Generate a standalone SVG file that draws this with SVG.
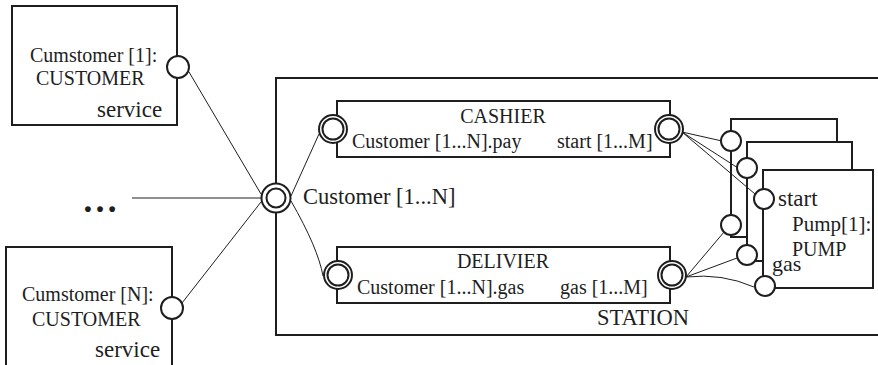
<svg xmlns="http://www.w3.org/2000/svg" width="878" height="365" viewBox="0 0 878 365">
  <style>
    .box{fill:#fff;stroke:#1e1e1e;stroke-width:2}
    .frame{fill:none;stroke:#1e1e1e;stroke-width:2}
    .wire{fill:none;stroke:#1e1e1e;stroke-width:1}
    .port{fill:#fff;stroke:#1e1e1e;stroke-width:2}
    text{font-family:"Liberation Serif","Times New Roman","DejaVu Serif",serif;font-size:20px;fill:#1e1e1e}
    .big{font-size:22.5px}
    .mid{text-anchor:middle}
  </style>
  <rect width="878" height="365" fill="#fff"/>

  <!-- composite structure -->
  <g id="station">
    <rect class="frame" x="276" y="78" width="640" height="257"/>
    <text class="big" x="597" y="325">STATION</text>
  </g>

  <g id="customer-1">
    <rect class="box" x="12" y="6" width="165" height="119"/>
    <text x="30" y="62">Cumstomer [1]:</text>
    <text x="36" y="85">CUSTOMER</text>
    <text x="97" y="117" style="font-size:23px">service</text>
    <circle class="port" cx="178" cy="67" r="11"/>
  </g>

  <g id="customer-n">
    <rect class="box" x="6" y="247" width="166" height="140"/>
    <text x="22" y="301">Cumstomer [N]:</text>
    <text x="32" y="326">CUSTOMER</text>
    <text x="95" y="357" style="font-size:23px">service</text>
    <circle class="port" cx="172" cy="308" r="11"/>
  </g>

  <g id="ellipsis">
    <text x="82" y="212" style="font-size:36px;font-weight:bold">…</text>
  </g>

  <g id="station-port">
    <circle class="port" cx="276" cy="198" r="14.5"/>
    <circle class="port" cx="276" cy="198" r="9.5"/>
    <text class="big" x="303" y="204">Customer [1...N]</text>
  </g>

  <g id="cashier">
    <rect class="box" x="337" y="101" width="333" height="56"/>
    <text class="mid" x="503" y="123">CASHIER</text>
    <text x="352" y="148">Customer [1...N].pay</text>
    <text x="557" y="148">start [1...M]</text>
    <circle class="port" cx="333" cy="129" r="14"/>
    <circle class="port" cx="333" cy="129" r="10.5"/>
    <circle class="port" cx="669" cy="129" r="14"/>
    <circle class="port" cx="669" cy="129" r="10.5"/>
  </g>

  <g id="delivier">
    <rect class="box" x="337" y="247" width="333" height="56"/>
    <text class="mid" x="503" y="268">DELIVIER</text>
    <text x="357" y="294">Customer [1...N].gas</text>
    <text x="560" y="294">gas [1...M]</text>
    <circle class="port" cx="338" cy="275" r="14"/>
    <circle class="port" cx="338" cy="275" r="10.5"/>
    <circle class="port" cx="672" cy="275" r="14"/>
    <circle class="port" cx="672" cy="275" r="10.5"/>
  </g>

  <!-- stacked pump instances, back to front -->
  <g id="pump-3">
    <rect class="box" x="731" y="119" width="106" height="118"/>
  </g>
  <g id="pump-2">
    <rect class="box" x="747" y="142" width="105" height="119"/>
  </g>
  <g id="pump-1">
    <rect class="box" x="763" y="170" width="110" height="118"/>
    <text x="778" y="206" style="font-size:23px">start</text>
    <text x="792" y="231" style="font-size:21px">Pump[1]:</text>
    <text x="792" y="256" style="font-size:20px">PUMP</text>
    <text x="772" y="271" style="font-size:22px">gas</text>
  </g>

  <g id="connectors">
    <path class="wire" d="M189,72 L261,194"/>
    <path class="wire" d="M182,303 L261,202"/>
    <path class="wire" d="M132,198 L261.5,198"/>
    <path class="wire" d="M291,196 L319,134"/>
    <path class="wire" d="M291,201 Q318,248 323,276"/>
    <path class="wire" d="M682,132 L722,141"/>
    <path class="wire" d="M682,132 L738,168"/>
    <path class="wire" d="M682,132 L755,194"/>
    <path class="wire" d="M686,277 L724,232"/>
    <path class="wire" d="M686,277 L737,258"/>
    <path class="wire" d="M686,277 Q722,273 754,287"/>
  </g>

  <g id="pump-ports">
    <circle class="port" cx="731" cy="141" r="10"/>
    <circle class="port" cx="731" cy="225" r="10"/>
    <circle class="port" cx="747" cy="168" r="10"/>
    <circle class="port" cx="747" cy="255" r="10"/>
    <circle class="port" cx="764" cy="199" r="10"/>
    <circle class="port" cx="765" cy="286" r="10"/>
  </g>
</svg>
